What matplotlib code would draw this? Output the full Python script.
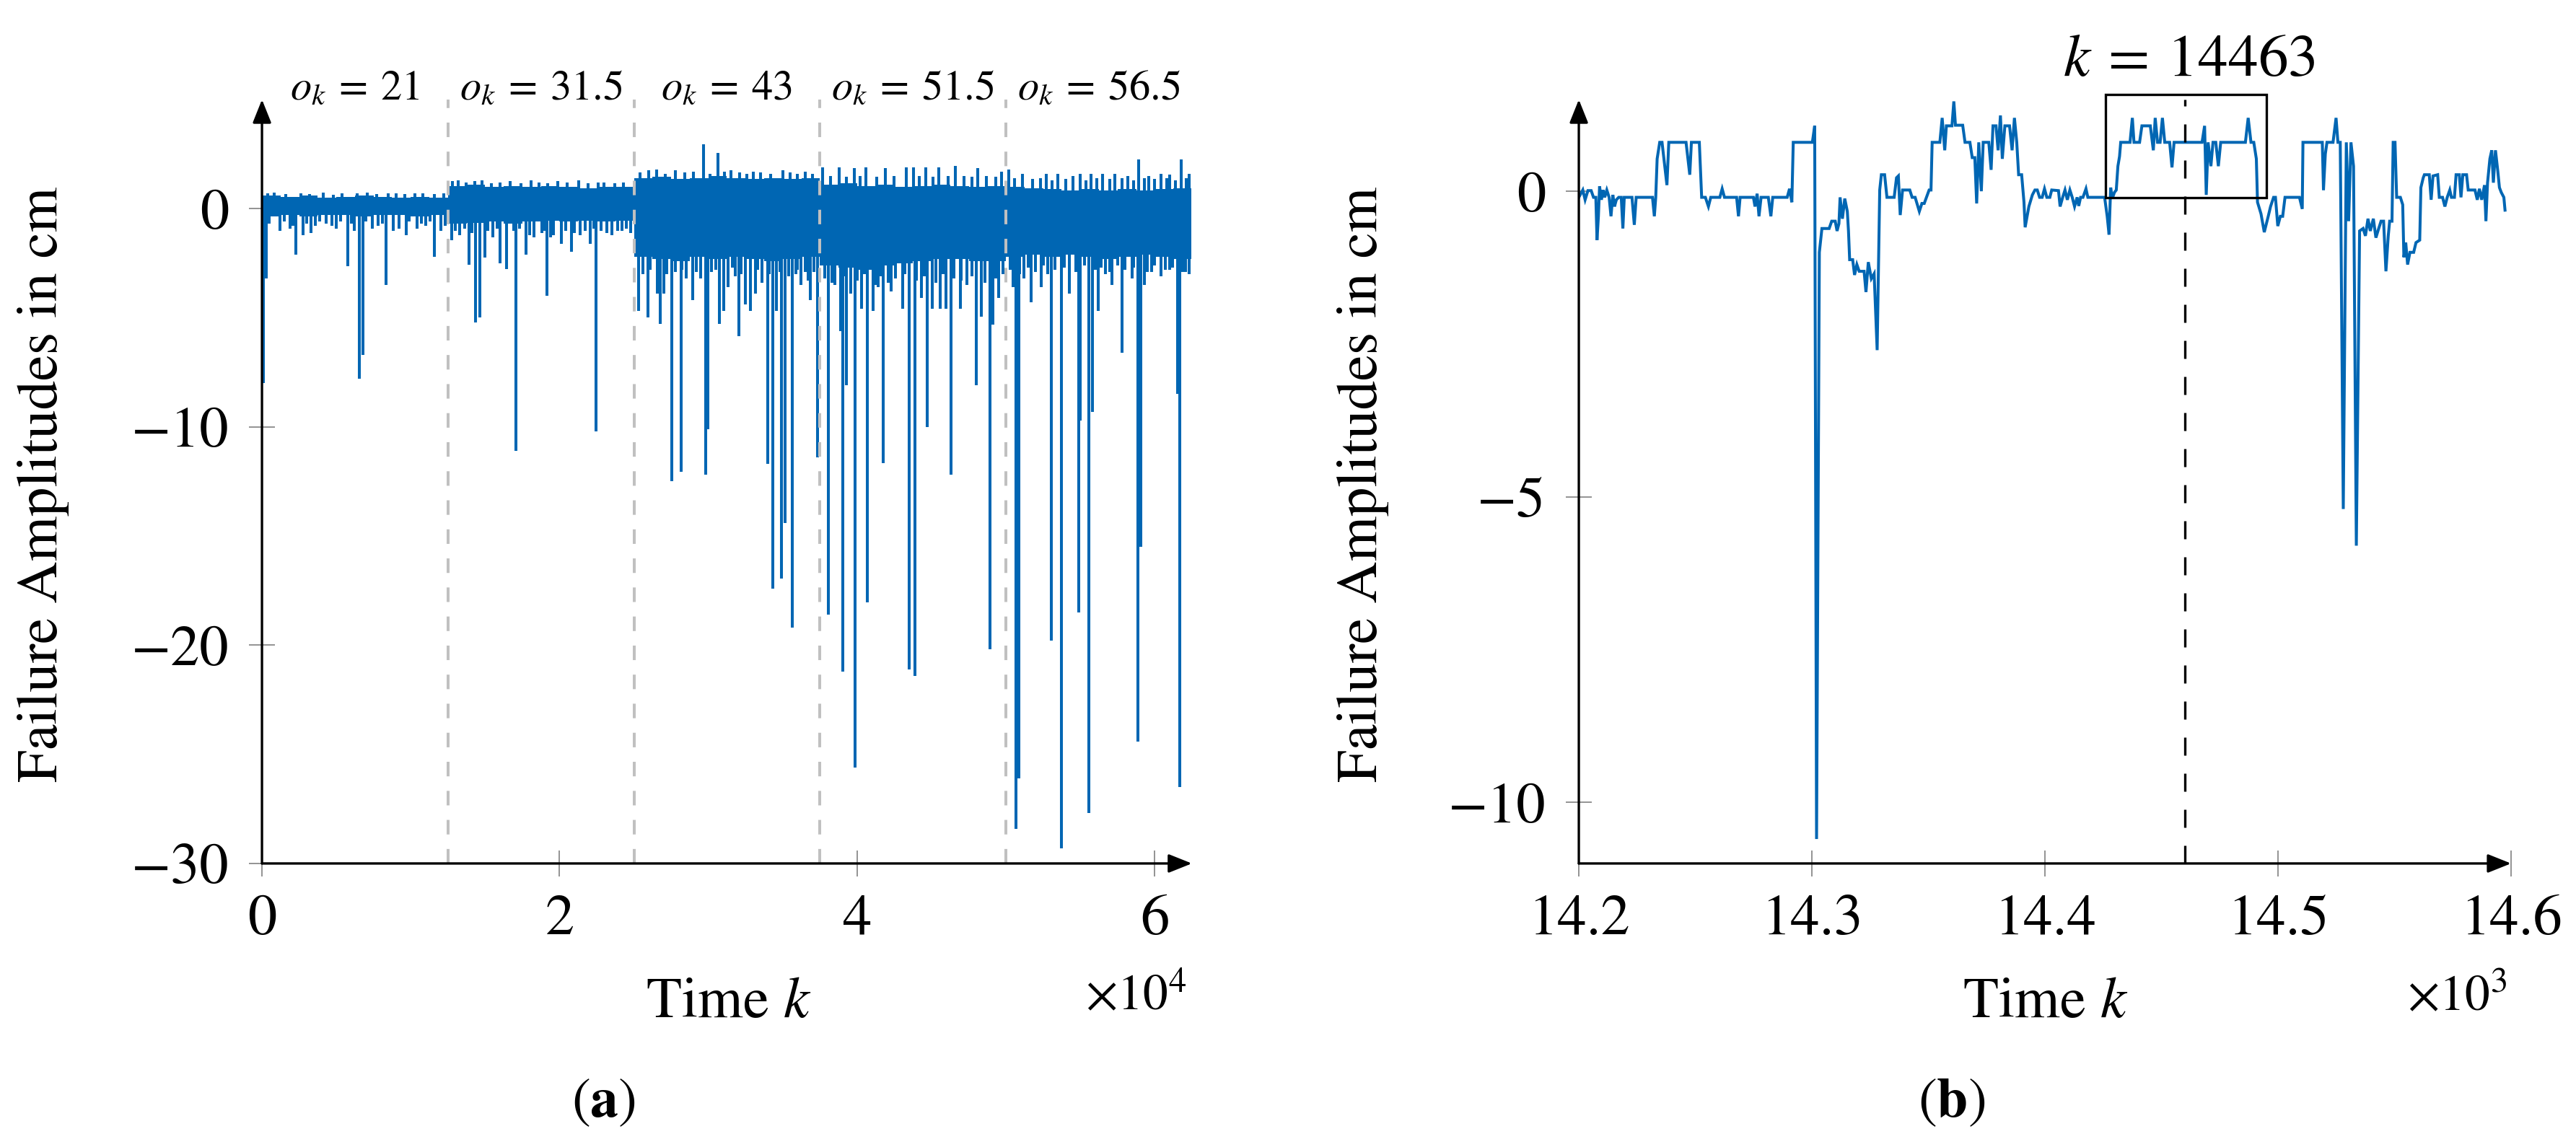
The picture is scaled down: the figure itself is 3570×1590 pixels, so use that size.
import numpy as np
import matplotlib
matplotlib.use('Agg')
import matplotlib.pyplot as plt
from matplotlib.patches import Rectangle
from matplotlib.transforms import blended_transform_factory

plt.rcParams['font.family'] = ['STIXGeneral', 'DejaVu Serif']
plt.rcParams['mathtext.fontset'] = 'stix'

BLUE = '#0066b3'

# ---------------- panel (a) data ----------------
seg_edges = [0, 12500, 25000, 37500, 50000, 62500]
seg_labels = [r'$o_k\:=\:21$', r'$o_k\:=\:31.5$', r'$o_k\:=\:43$', r'$o_k\:=\:51.5$', r'$o_k\:=\:56.5$']

band_k = [0, 1250, 2500, 3750, 5000, 6250, 7500, 8750, 10000, 11250,
          12500, 13750, 15000, 16250, 17500, 18750, 20000, 21250, 22500, 23750,
          25000, 26250, 27500, 28750, 30000, 31250, 32500, 33750, 35000, 36250,
          37500, 38750, 40000, 41250, 42500, 43750, 45000, 46250, 47500, 48750,
          50000, 51250, 52500, 53750, 55000, 56250, 57500, 58750, 60000, 61250,
          62450]
band_top = [0.60, 0.55, 0.60, 0.50, 0.55, 0.60, 0.55, 0.50, 0.55, 0.50,
            1.05, 1.10, 1.00, 1.05, 1.00, 1.05, 1.00, 0.95, 1.00, 1.00,
            1.40, 1.45, 1.35, 1.40, 1.50, 1.40, 1.35, 1.40, 1.35, 1.40,
            1.10, 1.15, 1.05, 1.10, 1.00, 1.05, 1.10, 1.05, 1.00, 1.05,
            1.00, 0.95, 0.90, 0.85, 0.90, 0.85, 0.90, 0.85, 0.90, 0.95]
band_bot = [-0.35, -0.30, -0.35, -0.30, -0.30, -0.35, -0.30, -0.30, -0.35, -0.30,
            -0.70, -0.65, -0.60, -0.70, -0.60, -0.55, -0.60, -0.55, -0.60, -0.55,
            -2.20, -2.30, -2.40, -2.20, -2.30, -2.20, -2.30, -2.40, -2.30, -2.20,
            -2.60, -2.70, -2.80, -2.60, -2.50, -2.40, -2.30, -2.30, -2.40, -2.40,
            -2.20, -2.10, -2.20, -2.10, -2.20, -2.30, -2.20, -2.10, -2.20, -2.30]

# large downward failures
spike_k = [100, 300, 1200, 1900, 2280, 2750, 3600, 4300, 5000, 5750, 6200, 6530, 6800,
           7400, 8340, 8800, 9700, 10400, 11000, 11570, 12000,
           12750, 13300, 13920, 14350, 14640, 14960, 15500, 16000, 16420, 17070, 17750,
           18300, 18800, 19130, 19600, 20130, 20780, 21400, 22050, 22460, 23200, 23900, 24500,
           25320, 25940, 26560, 26780, 26990, 27200, 27560, 28180, 28500, 28940, 29800, 29960,
           30200, 30720, 31040, 31320, 31800, 32050, 32500, 32820, 33150, 33600, 33970, 34330,
           34560, 34930, 35140, 35660, 35900, 36200, 36500, 36830, 37360,
           38090, 38500, 38900, 39060, 39300, 39550, 39870, 40280, 40680, 41050, 41400, 41730,
           42300, 43060, 43520, 43890, 44330, 44700, 45050, 45590, 45980, 46320, 46920, 47400,
           48010, 48330, 48910, 49110, 49510,
           50490, 50680, 50890, 51200, 51670, 52350, 52800, 53050, 53730, 54240, 54910, 54970,
           55560, 55800, 56200, 56700, 57130, 57810, 58460, 58860, 59070, 59300, 59800, 60400,
           61000, 61550, 61660, 62070]
spike_v = [-8.0, -3.2, -1.0, -0.9, -2.1, -1.2, -0.8, -0.7, -0.9, -2.65, -1.0, -7.8, -6.7,
           -0.9, -3.5, -1.0, -1.2, -0.9, -0.8, -2.2, -1.0,
           -1.46, -1.2, -2.58, -5.2, -4.97, -2.25, -1.3, -2.5, -2.78, -11.1, -2.1,
           -1.3, -1.1, -4.0, -1.2, -1.6, -1.97, -1.2, -1.62, -10.2, -1.1, -1.0, -0.9,
           -4.7, -4.97, -3.9, -5.27, -3.9, -3.0, -12.5, -12.05, -3.2, -4.2, -12.2, -10.1,
           -2.9, -5.27, -4.7, -3.6, -3.1, -5.85, -4.4, -4.7, -3.9, -3.4, -11.7, -17.4,
           -4.7, -16.95, -14.4, -19.2, -3.0, -3.5, -2.9, -4.2, -11.4,
           -18.6, -3.5, -5.6, -21.2, -8.1, -3.9, -25.6, -4.6, -18.05, -4.7, -3.6, -11.65,
           -3.8, -4.6, -21.1, -21.4, -4.1, -10.0, -4.6, -4.6, -4.6, -12.2, -4.6, -3.5,
           -8.1, -4.95, -20.2, -5.3, -4.1,
           -3.6, -28.4, -26.1, -3.2, -4.3, -3.6, -3.0, -19.8, -29.3, -3.9, -18.5, -9.7,
           -27.7, -9.3, -4.7, -3.0, -3.5, -6.6, -3.2, -24.4, -15.5, -3.5, -2.9, -3.1,
           -2.8, -8.5, -26.5, -2.9]

# small downward excursions just below the dense band
minor_k = [500, 1500, 2100, 3000, 3300, 3900, 4700, 5300, 6000, 7000, 7800, 8100, 9200,
           9900, 10700, 11300, 12300,
           13000, 13600, 14100, 15200, 15800, 16900, 17300, 18000, 19000, 19400, 20400,
           21000, 21700, 22300, 22800, 23500, 24200, 24800,
           25600, 26100, 27000, 27800, 28200, 29200, 29500, 30500, 31600, 32200, 33300,
           34100, 34800, 35400, 36000, 36700, 37100,
           37800, 38300, 39200, 40000, 40500, 41200, 41600, 42100, 42600, 43200, 44000,
           44500, 45300, 45800, 46500, 47000, 47700, 48600, 49300, 49800,
           50300, 50900, 51500, 52000, 52500, 53300, 53900, 54700, 55300, 56000, 56400,
           57000, 57500, 58000, 58600, 59500, 60000, 60700, 61200, 61900, 62300]
minor_v = [-0.7, -0.6, -0.8, -0.7, -1.1, -0.6, -0.8, -0.6, -0.7, -0.6, -0.8, -0.7, -0.9,
           -0.6, -0.7, -0.6, -0.8,
           -1.0, -0.9, -1.1, -1.0, -0.9, -1.0, -0.9, -1.2, -1.0, -1.3, -1.0,
           -1.1, -1.0, -0.9, -1.0, -1.2, -1.0, -1.1,
           -3.0, -2.8, -2.7, -2.9, -2.8, -2.9, -3.2, -2.8, -2.7, -3.0, -2.8,
           -3.0, -2.9, -3.1, -2.8, -3.3, -2.9,
           -3.2, -3.4, -3.1, -3.3, -3.0, -3.5, -3.1, -3.4, -3.2, -3.0, -3.3,
           -3.1, -3.4, -3.0, -3.2, -3.3, -3.1, -3.4, -3.2, -3.0,
           -2.8, -3.0, -2.7, -2.9, -2.6, -2.8, -2.7, -2.9, -2.6, -2.8, -2.7,
           -2.9, -2.6, -2.8, -2.7, -2.9, -2.6, -2.8, -2.7, -2.9, -3.0]

# upward excursions above the dense band
up_k = [400, 800, 1600, 2600, 3200, 4100, 4800, 5400, 6400, 7100, 7700, 8500, 9000, 9600,
        10300, 10800, 11600, 12200,
        12800, 13200, 13700, 14300, 14800, 15400, 16000, 16700, 17400, 18100, 18600, 19200,
        19900, 20500, 21300, 21900, 22600, 23000, 23700, 24300,
        25400, 26000, 26500, 27100, 27800, 28400, 29000, 29670, 30100, 30640, 31100, 31500,
        32100, 32600, 33000, 33500, 34200, 35000, 35500, 36000, 36500, 37000,
        37700, 38200, 38800, 39300, 39800, 40200, 40600, 41300, 41900, 42500, 43300, 43800,
        44200, 44600, 45100, 45500, 46100, 46600, 47200, 47700, 48100, 48700, 49300, 49700,
        50200, 50600, 51100, 51800, 52300, 52700, 53100, 53500, 54000, 54500, 55000, 55400,
        55700, 56100, 56500, 57000, 57300, 57800, 58200, 58600, 58940, 59300, 59600, 60000,
        60400, 60800, 61000, 61400, 61780, 62100, 62300]
up_v = [0.70, 0.75, 0.68, 0.70, 0.66, 0.75, 0.65, 0.70, 0.72, 0.75, 0.66, 0.70, 0.70, 0.68,
        0.72, 0.70, 0.66, 0.70,
        1.25, 1.30, 1.20, 1.25, 1.30, 1.15, 1.20, 1.25, 1.15, 1.30, 1.20, 1.15,
        1.25, 1.20, 1.30, 1.15, 1.20, 1.20, 1.15, 1.20,
        1.65, 1.75, 1.80, 1.60, 1.75, 1.65, 1.70, 2.95, 1.60, 2.55, 1.70, 1.75,
        1.65, 1.60, 1.70, 1.65, 1.60, 1.75, 1.65, 1.60, 1.70, 1.60,
        1.90, 1.50, 1.90, 1.45, 1.85, 1.50, 1.90, 1.45, 1.85, 1.50, 1.90, 1.90,
        1.50, 1.90, 1.45, 1.90, 1.50, 1.95, 1.50, 1.45, 1.85, 1.50, 1.45, 1.70,
        1.80, 1.40, 1.60, 1.35, 1.40, 1.60, 1.30, 1.60, 1.35, 1.50, 1.60, 1.30,
        1.60, 1.40, 1.60, 1.35, 1.60, 1.40, 1.50, 1.30, 2.25, 1.40, 1.50, 1.35,
        1.60, 1.40, 1.55, 1.30, 2.25, 1.40, 1.60]

a_xticks = [0, 20000, 40000, 60000]
a_xticklabels = ['0', '2', '4', '6']
a_yticks = [0, -10, -20, -30]

# ---------------- panel (b) data ----------------
b_k = [14200.0, 14201.7, 14202.7, 14203.9, 14205.3, 14206.3, 14207.3, 14207.8, 14208.4, 14208.9,
       14209.7, 14210.4, 14211.1, 14212.0, 14213.0, 14213.8, 14214.6, 14215.3, 14216.1, 14217.1,
       14218.2, 14218.9, 14219.5, 14222.8, 14223.8, 14224.6, 14231.6, 14232.4, 14233.0, 14233.6,
       14234.7, 14235.7, 14236.5, 14237.8, 14238.6, 14246.0, 14247.6, 14248.3, 14251.7, 14252.7,
       14254.3, 14255.6, 14256.6, 14260.5, 14261.5, 14262.5, 14267.7, 14268.5, 14269.2, 14274.9,
       14275.6, 14276.5, 14277.3, 14278.2, 14281.3, 14282.4, 14283.2, 14289.4, 14290.4, 14291.4,
       14292.0, 14300.2, 14301.2, 14302.0, 14303.2, 14304.3, 14307.4, 14308.5, 14310.0, 14310.8,
       14311.6, 14312.1, 14313.1, 14314.1, 14315.2, 14315.7, 14316.2, 14317.5, 14318.3, 14319.3,
       14320.3, 14322.4, 14323.2, 14324.2, 14325.5, 14326.7, 14328.0, 14329.1, 14329.8, 14331.2,
       14332.2, 14335.3, 14336.3, 14337.1, 14337.9, 14338.9, 14342.0, 14343.0, 14344.3, 14346.1,
       14347.2, 14348.2, 14350.3, 14351.1, 14351.6, 14354.9, 14355.9, 14357.0, 14357.7, 14360.1,
       14360.9, 14361.6, 14364.7, 14365.7, 14367.8, 14368.8, 14369.9, 14370.7, 14371.6, 14372.7,
       14373.5, 14375.9, 14376.9, 14377.7, 14379.0, 14379.9, 14380.9, 14381.7, 14382.8, 14384.8,
       14385.9, 14386.9, 14387.9, 14388.7, 14390.0, 14391.0, 14391.5, 14393.1, 14394.6, 14395.7,
       14396.7, 14397.7, 14398.8, 14399.8, 14400.8, 14402.1, 14402.9, 14405.8, 14406.5, 14407.6,
       14408.6, 14409.6, 14410.7, 14411.7, 14412.7, 14413.8, 14414.5, 14415.3, 14416.3, 14417.6,
       14418.4, 14425.6, 14426.7, 14427.5, 14428.2, 14428.9, 14429.8, 14430.6, 14431.3, 14432.0,
       14432.5, 14436.5, 14437.5, 14438.2, 14440.6, 14441.6, 14445.2, 14446.5, 14447.3, 14448.3,
       14449.4, 14450.4, 14451.4, 14453.5, 14454.5, 14455.4, 14467.4, 14468.5, 14469.2, 14470.0,
       14471.2, 14472.1, 14473.3, 14474.4, 14475.4, 14486.0, 14487.2, 14488.4, 14489.6, 14490.7,
       14491.2, 14492.7, 14494.1, 14495.8, 14496.8, 14498.1, 14498.9, 14499.9, 14501.0, 14502.0,
       14503.0, 14509.2, 14510.4, 14510.7, 14519.0, 14519.5, 14520.3, 14521.0, 14523.6, 14524.4,
       14524.9, 14525.7, 14526.7, 14528.0, 14529.3, 14530.3, 14531.3, 14532.4, 14533.6, 14535.0,
       14536.5, 14537.5, 14538.6, 14539.6, 14540.9, 14542.0, 14543.2, 14544.2, 14545.3, 14546.3,
       14547.3, 14547.9, 14548.9, 14549.4, 14550.2, 14550.9, 14552.5, 14553.5, 14554.0, 14554.8,
       14555.6, 14556.6, 14558.2, 14559.2, 14560.8, 14561.3, 14562.3, 14562.8, 14564.9, 14565.7,
       14566.5, 14568.5, 14569.2, 14570.6, 14571.6, 14572.6, 14573.7, 14574.4, 14575.7, 14576.4,
       14577.8, 14578.5, 14579.3, 14580.9, 14581.6, 14584.5, 14585.5, 14586.4, 14587.4, 14588.6,
       14589.2, 14589.9, 14590.4, 14590.9, 14591.7, 14592.4, 14593.3, 14594.3, 14595.0, 14595.8,
       14596.9, 14597.4]
b_v = [-0.10, 0.02, -0.14, 0.01, 0.01, -0.10, -0.10, -0.80, -0.41, 0.08,
       -0.14, 0.02, -0.10, 0.02, -0.10, -0.41, -0.06, -0.25, -0.14, -0.10,
       -0.10, -0.61, -0.10, -0.10, -0.55, -0.10, -0.10, -0.41, -0.10, 0.53,
       0.80, 0.80, 0.53, 0.10, 0.80, 0.80, 0.27, 0.80, 0.80, -0.10,
       -0.10, -0.25, -0.10, -0.10, 0.04, -0.10, -0.10, -0.41, -0.10, -0.10,
       -0.25, -0.04, -0.41, -0.10, -0.10, -0.41, -0.10, -0.10, 0.04, -0.18,
       0.80, 0.80, 1.07, -10.60, -1.00, -0.61, -0.61, -0.49, -0.49, -0.65,
       -0.53, -0.10, -0.45, -0.12, -0.33, -0.65, -1.12, -1.12, -1.37, -1.20,
       -1.31, -1.31, -1.65, -1.16, -1.43, -1.35, -2.60, 0.02, 0.27, 0.27,
       -0.10, -0.10, 0.22, 0.25, -0.39, 0.02, 0.02, -0.10, -0.10, -0.33,
       -0.20, -0.20, 0.02, 0.02, 0.80, 0.80, 1.20, 0.67, 1.07, 1.07,
       1.47, 1.08, 1.08, 0.80, 0.80, 0.55, 0.55, -0.20, 0.80, 0.00,
       0.80, 0.80, 0.35, 1.07, 1.07, 0.67, 1.24, 0.53, 1.07, 1.07,
       0.67, 1.20, 0.80, 0.27, 0.27, -0.18, -0.59, -0.25, -0.06, 0.02,
       0.02, -0.10, -0.10, 0.04, -0.10, -0.10, 0.02, 0.01, -0.25, -0.10,
       0.02, -0.14, 0.02, -0.10, -0.25, -0.10, -0.24, -0.10, -0.10, 0.04,
       -0.10, -0.10, -0.41, -0.71, 0.06, -0.12, -0.02, 0.02, 0.41, 0.57,
       0.80, 0.80, 1.20, 0.80, 0.80, 1.07, 1.07, 0.67, 1.20, 0.80,
       0.80, 1.20, 0.80, 0.80, 0.39, 0.80, 0.80, 1.07, -0.06, 0.80,
       0.41, 0.80, 0.80, 0.41, 0.80, 0.80, 1.20, 0.80, 0.80, 0.53,
       -0.18, -0.37, -0.67, -0.41, -0.25, -0.10, -0.10, -0.57, -0.41, -0.41,
       -0.10, -0.10, -0.29, 0.80, 0.80, 0.02, 0.61, 0.80, 0.80, 1.04,
       1.20, 0.80, 0.80, -5.20, 0.80, -0.49, 0.80, 0.41, -5.80, -0.65,
       -0.61, -0.73, -0.45, -0.65, -0.45, -0.76, -0.61, -0.49, -0.49, -1.31,
       -0.73, -0.49, -0.49, 0.80, 0.80, -0.10, -0.10, -0.22, -1.08, -0.84,
       -1.20, -1.00, -1.00, -0.84, -0.80, 0.06, 0.22, 0.27, 0.27, -0.14,
       0.25, 0.27, -0.10, -0.10, -0.25, -0.10, 0.02, -0.10, -0.10, 0.27,
       0.27, -0.10, 0.27, 0.27, 0.02, 0.02, -0.14, 0.04, -0.14, 0.10,
       -0.49, 0.14, 0.33, 0.53, 0.67, 0.14, 0.67, 0.33, 0.06, -0.02,
       -0.10, -0.31]

b_mark_k = 14460
b_mark_label = r'$k\:=\:14463$'
b_box = (14426, -0.10, 14495, 1.58)   # k0, v0, k1, v1
b_xticks = [14200, 14300, 14400, 14500, 14600]
b_xticklabels = ['14.2', '14.3', '14.4', '14.5', '14.6']
b_yticks = [0, -5, -10]

# ---------------- figure ----------------
FS = 58
fig = plt.figure(figsize=(35.7, 15.9), dpi=100)
axA = fig.add_axes([0.1017, 0.2472, 0.3610, 0.6660])
axB = fig.add_axes([0.6129, 0.2472, 0.3619, 0.6660])


def style_axes(ax):
    for s in ax.spines.values():
        s.set_visible(False)
    kw = dict(arrowstyle='-|>,head_length=0.55,head_width=0.22', lw=2.4, color='k',
              shrinkA=0, shrinkB=0, mutation_scale=36)
    ax.annotate('', xy=(0, 1), xytext=(0, 0), xycoords='axes fraction',
                arrowprops=kw, annotation_clip=False, zorder=10)
    ax.annotate('', xy=(1, 0), xytext=(0, 0), xycoords='axes fraction',
                arrowprops=kw, annotation_clip=False, zorder=10)
    ax.tick_params(direction='inout', length=26, width=1.2, color='#808080',
                   labelsize=FS)
    ax.tick_params(axis='x', pad=18)
    ax.tick_params(axis='y', pad=20)


# ---- panel (a)
bk = np.array(band_k, dtype=float)
axA.fill_between(bk, np.append(band_top, band_top[-1]), np.append(band_bot, band_bot[-1]),
                 step='post', color=BLUE, lw=0, zorder=2)
axA.vlines(minor_k, 0, minor_v, color=BLUE, lw=2.9, zorder=2)
axA.vlines(spike_k, 0, spike_v, color=BLUE, lw=2.9, zorder=2)
axA.vlines(up_k, 0, up_v, color=BLUE, lw=2.9, zorder=2)
for e in seg_edges[1:-1]:
    axA.axvline(e, color='#c0c0c0', lw=2.9, ls=(0, (5, 5)), zorder=3)
trA = blended_transform_factory(axA.transData, axA.transAxes)
for i, lab in enumerate(seg_labels):
    xc = 0.5 * (seg_edges[i] + seg_edges[i + 1])
    axA.text(xc, 1.0, lab, transform=trA, ha='center', va='baseline', fontsize=42)
axA.set_xlim(0, 62500)
axA.set_ylim(-30, 5)
axA.set_xticks(a_xticks)
axA.set_xticklabels(a_xticklabels)
axA.set_yticks(a_yticks)
style_axes(axA)

# ---- panel (b)
axB.plot(b_k, b_v, color=BLUE, lw=2.9, zorder=2, solid_joinstyle='miter')
axB.axvline(b_mark_k, color='k', lw=2.4, ls=(0, (7.5, 7.5)), zorder=4)
k0, v0, k1, v1 = b_box
axB.add_patch(Rectangle((k0, v0), k1 - k0, v1 - v0, fill=False, ec='k', lw=2.4,
                        clip_on=False, zorder=5))
axB.set_xlim(14200, 14600)
axB.set_ylim(-11, 1.5)
axB.set_xticks(b_xticks)
axB.set_xticklabels(b_xticklabels)
axB.set_yticks(b_yticks)
style_axes(axB)

# ---- texts
fig.text(0.8499, 0.934, b_mark_label, ha='center', va='baseline', fontsize=60)
fig.text(0.0168, 0.578, 'Failure Amplitudes in cm', rotation=90, ha='center', va='center', fontsize=FS)
fig.text(0.5290, 0.578, 'Failure Amplitudes in cm', rotation=90, ha='center', va='center', fontsize=FS)
fig.text(0.2829, 0.1132, r'Time $k$', ha='center', va='baseline', fontsize=FS)
fig.text(0.7941, 0.1132, r'Time $k$', ha='center', va='baseline', fontsize=FS)
fig.text(0.4605, 0.1195, r'$\times10^{4}$', ha='right', va='baseline', fontsize=50)
fig.text(0.9731, 0.1195, r'$\times10^{3}$', ha='right', va='baseline', fontsize=50)
fig.text(0.2342, 0.0377, r'($\mathbf{a}$)', ha='center', va='center', fontsize=56)
fig.text(0.7577, 0.0377, r'($\mathbf{b}$)', ha='center', va='center', fontsize=56)

fig.savefig('out.png', dpi=100)
